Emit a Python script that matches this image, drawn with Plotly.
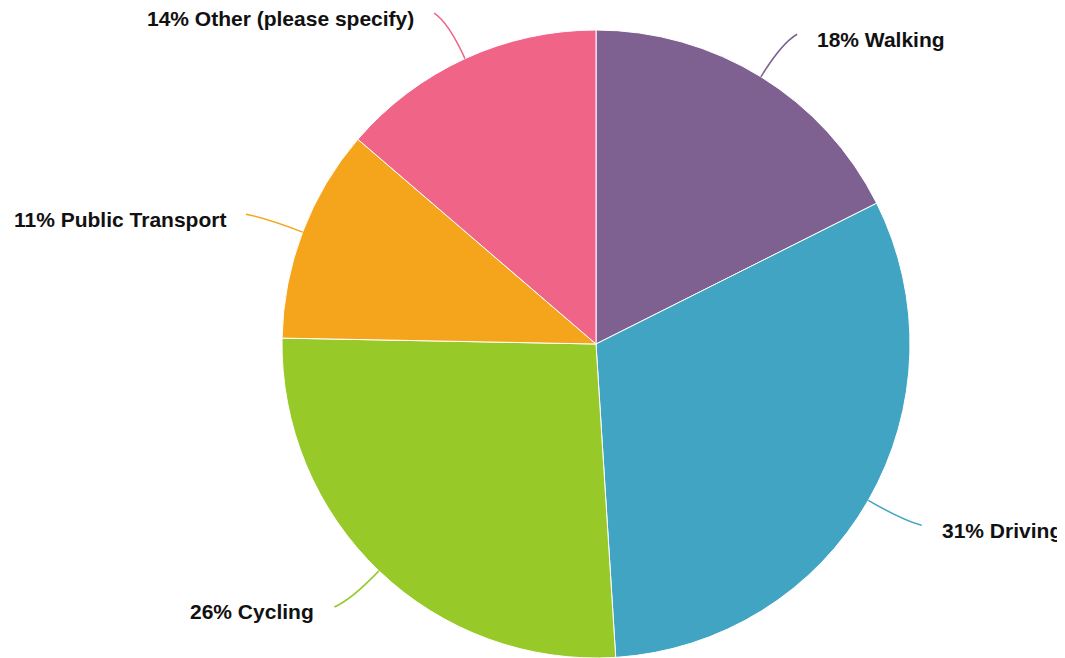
import math
import plotly.graph_objects as go

# Data
categories = ["Walking", "Driving", "Cycling", "Public Transport", "Other (please specify)"]
values = [17.6, 31.4, 26.3, 11.0, 13.7]
colors = ["#7e6190", "#40a4c2", "#97c928", "#f5a51c", "#f06488"]

# page is drawn with an 8px body margin; size the figure to fill the rest
OFF = 8
W, H = 1065 - OFF, 658 - OFF
# pie placement (figure pixels)
R = 314
cx = 596 - OFF
top = 30 - OFF
dom_x = [(cx - R) / W, (cx + R) / W]
dom_y = [max(0.0, (H - top - 2 * R) / H), 1 - top / H]
cy = top + R

fig = go.Figure(
    go.Pie(
        labels=categories,
        values=values,
        sort=False,
        direction="clockwise",
        rotation=0,
        marker=dict(colors=colors, line=dict(color="white", width=1)),
        textinfo="none",
        hoverinfo="label+percent",
        domain=dict(x=dom_x, y=dom_y),
        showlegend=False,
    )
)


def px2paper(x, y):
    return x / W, 1 - y / H


total = sum(values)
cum = 0.0
shapes = []
annotations = []
for cat, val, col in zip(categories, values, colors):
    mid = (cum + val / 2) / total * 2 * math.pi
    cum += val
    sx, sy = math.sin(mid), -math.cos(mid)
    side = 1 if sx >= 0 else -1

    def radial(r):
        return cx + r * sx, cy + r * sy

    p0 = radial(R)
    c1 = radial(R + 40)
    e = radial(R + 50)
    e = (e[0] + side * 10, e[1])
    a = px2paper(*p0)
    b = px2paper(*c1)
    d = px2paper(*e)
    shapes.append(dict(
        type="path", xref="paper", yref="paper",
        path=f"M {a[0]},{a[1]} Q {b[0]},{b[1]} {d[0]},{d[1]}",
        line=dict(color=col, width=1.5),
    ))
    pct = round(val / total * 100)
    tx, ty = px2paper(e[0] + side * 18, e[1] + 5)
    annotations.append(dict(
        x=tx, y=ty, xref="paper", yref="paper",
        text=f"<b>{pct}% {cat}</b>", showarrow=False,
        xanchor="left" if side > 0 else "right", yanchor="middle",
        font=dict(family="Liberation Sans, Arial, sans-serif", size=21, color="#111111"),
    ))

fig.update_layout(
    width=W, height=H,
    margin=dict(l=0, r=0, t=0, b=0),
    paper_bgcolor="white",
    plot_bgcolor="white",
    shapes=shapes,
    annotations=annotations,
)

fig.write_html("out.html")
